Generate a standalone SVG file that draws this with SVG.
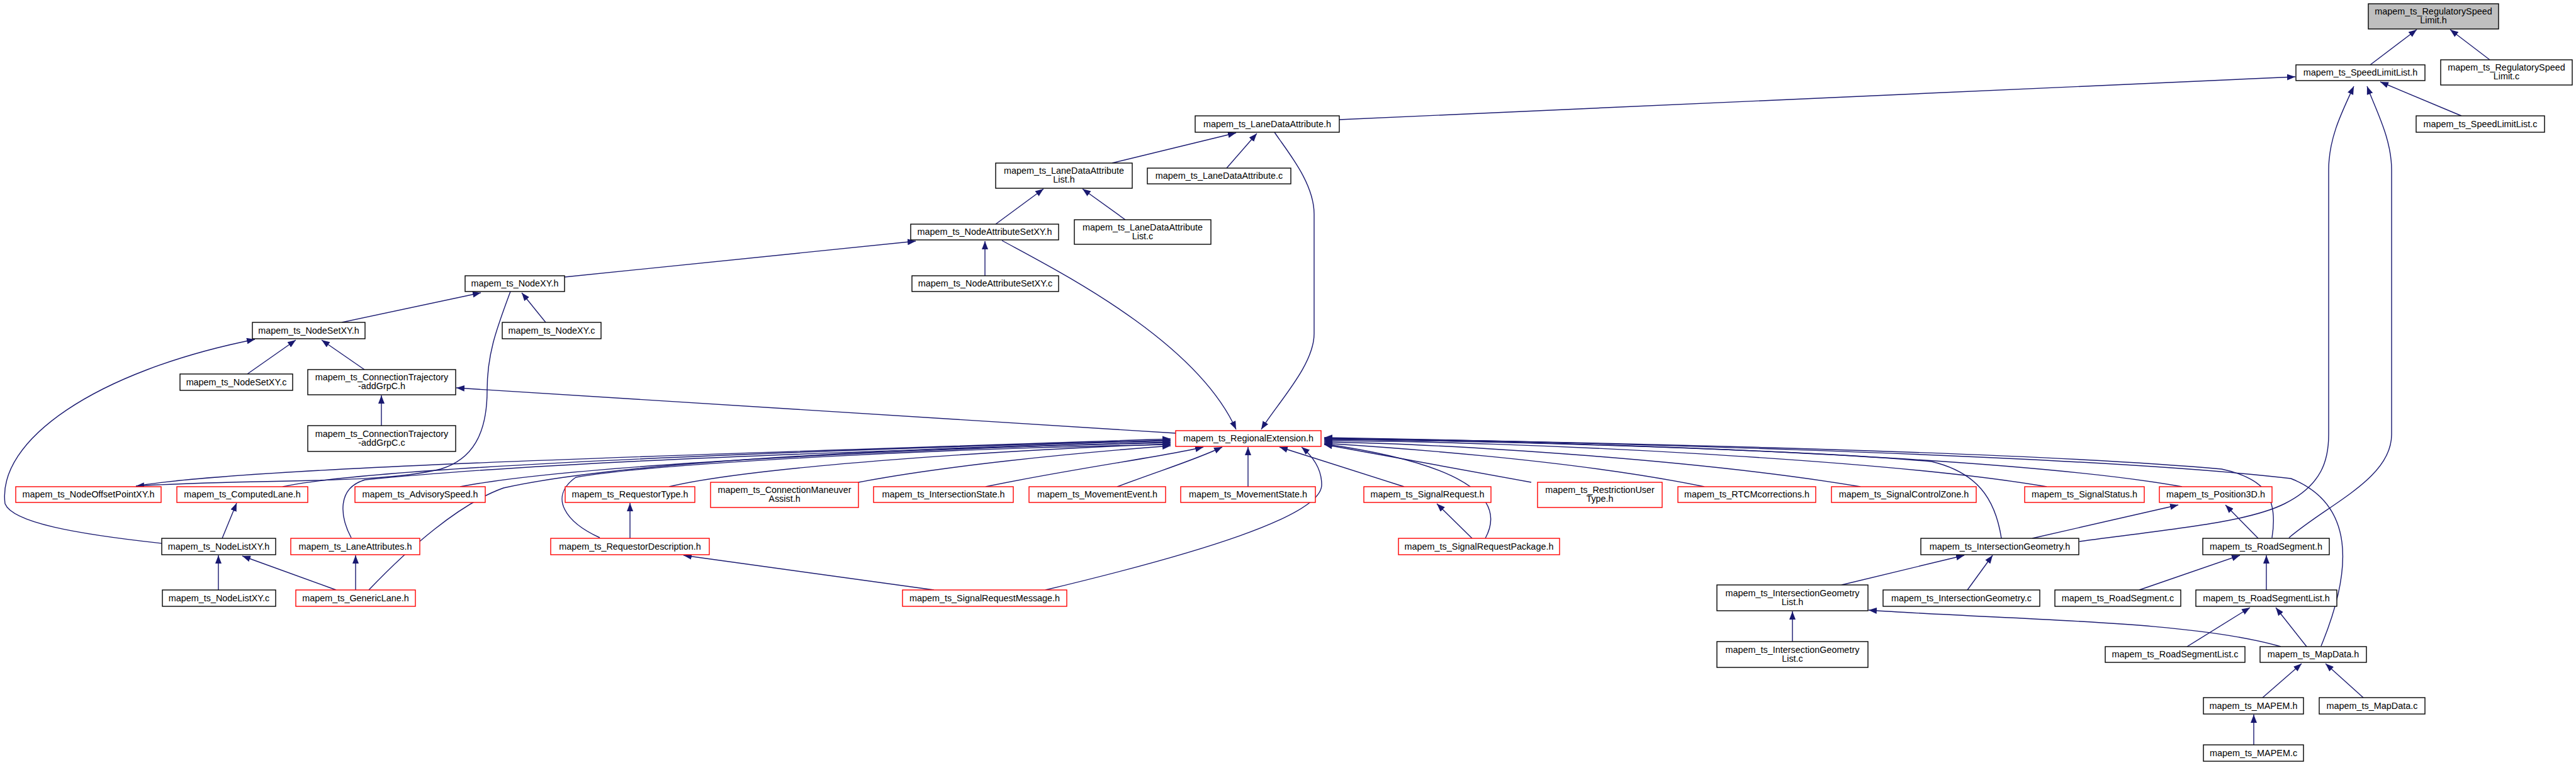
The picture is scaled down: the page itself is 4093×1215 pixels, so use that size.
<svg xmlns="http://www.w3.org/2000/svg" width="4093" height="1215" viewBox="0 0 4093 1215">
<defs>
<marker id="a" markerUnits="userSpaceOnUse" markerWidth="13" markerHeight="10" refX="13" refY="5" orient="auto"><path d="M0,0 L13,5 L0,10 z" fill="#191970"/></marker>
<style>
.n rect{fill:#fff;stroke:#000;stroke-width:1.4}
.r rect{fill:#fff;stroke:#ff0000;stroke-width:1.4}
.g rect{fill:#bfbfbf;stroke:#000;stroke-width:1.4}
text{font-family:"Liberation Sans",Arial,sans-serif;font-size:14.4px;text-anchor:middle;fill:#000}
#edges path{fill:none;stroke:#191970;stroke-width:1.4;marker-end:url(#a)}
</style>
</defs>
<rect width="4093" height="1215" fill="#fff"/>
<g id="edges">
<path d="M3766,103 L3840,47"/>
<path d="M3956,95 L3893,47"/>
<path d="M2128,190 L3647,122"/>
<path d="M3911,184 L3782,130"/>
<path d="M3304,860 C3450,840 3570,830 3630,800 C3690,770 3700,730 3700,690 L3700,270 C3700,220 3720,180 3740,137"/>
<path d="M3637,854 C3700,800 3800,760 3800,690 L3800,270 C3800,220 3775,175 3761,137"/>
<path d="M1767,259 L1964,211"/>
<path d="M1949,267 L1997,212"/>
<path d="M2025,210 C2045,240 2088,290 2088,340 L2088,530 C2088,580 2030,640 2004,682"/>
<path d="M1582,356 L1658,300"/>
<path d="M1788,349 L1720,300"/>
<path d="M897,440 L1455,383"/>
<path d="M1565,438 L1565,383"/>
<path d="M1592,382 C1680,430 1900,540 1964,682"/>
<path d="M543,512 L764,465"/>
<path d="M867,512 L829,465"/>
<path d="M811,463 C790,520 774,560 774,620 C774,690 750,730 700,745 C600,770 400,760 216,772"/>
<path d="M393,594 L470,540"/>
<path d="M579,587 L511,540"/>
<path d="M257,863 C120,848 20,830 8,800 C-5,700 150,590 405,539"/>
<path d="M606,676 L606,628"/>
<path d="M1868,688 L725,616"/>
<path d="M216,772 C400,740 1200,720 1860,697"/>
<path d="M449,773 C600,740 1300,715 1860,699"/>
<path d="M731,773 C900,740 1400,715 1860,702"/>
<path d="M1063,773 C1200,740 1600,715 1860,705"/>
<path d="M1364,766 C1500,740 1700,720 1860,708"/>
<path d="M1566,773 C1700,745 1850,725 1912,710"/>
<path d="M1775,773 C1850,745 1900,730 1942,710"/>
<path d="M1983,773 L1983,710"/>
<path d="M558,854 C540,820 535,775 580,762 C900,730 1500,712 1860,703"/>
<path d="M586,937 C650,870 730,800 800,775 C1000,730 1500,710 1860,700"/>
<path d="M953,854 C900,830 870,790 915,758 C1050,735 1500,712 1860,706"/>
<path d="M1661,937 C1900,880 2100,820 2100,770 C2100,740 2080,720 2068,710"/>
<path d="M2231,773 L2033,710"/>
<path d="M2360,855 C2390,800 2350,740 2104,705"/>
<path d="M2433,766 L2104,706"/>
<path d="M2708,773 C2500,730 2200,710 2104,704"/>
<path d="M2956,773 C2700,730 2300,705 2104,702"/>
<path d="M3252,773 C3000,730 2400,700 2104,700"/>
<path d="M3467,773 C3200,725 2500,700 2104,698"/>
<path d="M3180,855 C3170,790 3140,750 3069,733 C2800,710 2300,700 2104,697"/>
<path d="M3610,854 C3620,790 3600,760 3530,745 C3200,715 2400,700 2104,696"/>
<path d="M3688,1026 C3740,900 3740,800 3640,760 C3300,720 2400,700 2104,695"/>
<path d="M2848,1019 L2848,971"/>
<path d="M2926,929 L3121,882"/>
<path d="M3126,937 L3166,882"/>
<path d="M3624,1027 C3480,985 3200,985 2969,969"/>
<path d="M3399,937 L3559,882"/>
<path d="M3601,937 L3601,882"/>
<path d="M3475,1027 L3575,965"/>
<path d="M3665,1027 L3616,965"/>
<path d="M3595,1108 L3657,1054"/>
<path d="M3755,1108 L3695,1054"/>
<path d="M3581,1183 L3581,1135"/>
<path d="M3229,855 L3461,802"/>
<path d="M3588,855 L3536,802"/>
<path d="M347,937 L347,882"/>
<path d="M534,937 L385,883"/>
<path d="M565,937 L565,882"/>
<path d="M353,855 L376,799"/>
<path d="M1001,855 L1001,799"/>
<path d="M1484,937 L1086,882"/>
<path d="M2339,855 L2283,800"/>
</g>
<g id="n1" class="g"><rect x="3763" y="6" width="207" height="40"/><text x="3866.5" y="23">mapem_ts_RegulatorySpeed</text><text x="3866.5" y="37.4">Limit.h</text></g>
<g id="n2" class="n"><rect x="3648" y="103" width="205" height="25"/><text x="3750.5" y="120">mapem_ts_SpeedLimitList.h</text></g>
<g id="n3" class="n"><rect x="3878" y="95" width="209" height="40"/><text x="3982.5" y="112">mapem_ts_RegulatorySpeed</text><text x="3982.5" y="126.4">Limit.c</text></g>
<g id="n4" class="n"><rect x="3839" y="184" width="204" height="26"/><text x="3941" y="201.5">mapem_ts_SpeedLimitList.c</text></g>
<g id="n5" class="n"><rect x="1899" y="184" width="229" height="26"/><text x="2013.5" y="201.5">mapem_ts_LaneDataAttribute.h</text></g>
<g id="n6" class="n"><rect x="1582" y="259" width="217" height="40"/><text x="1690.5" y="276">mapem_ts_LaneDataAttribute</text><text x="1690.5" y="290.4">List.h</text></g>
<g id="n7" class="n"><rect x="1823" y="267" width="228" height="25"/><text x="1937" y="284">mapem_ts_LaneDataAttribute.c</text></g>
<g id="n8" class="n"><rect x="1447" y="356" width="235" height="25"/><text x="1564.5" y="373">mapem_ts_NodeAttributeSetXY.h</text></g>
<g id="n9" class="n"><rect x="1707" y="349" width="217" height="39"/><text x="1815.5" y="365.5">mapem_ts_LaneDataAttribute</text><text x="1815.5" y="379.9">List.c</text></g>
<g id="n10" class="n"><rect x="739" y="438" width="158" height="25"/><text x="818" y="455">mapem_ts_NodeXY.h</text></g>
<g id="n11" class="n"><rect x="1449" y="438" width="233" height="25"/><text x="1565.5" y="455">mapem_ts_NodeAttributeSetXY.c</text></g>
<g id="n12" class="n"><rect x="401" y="512" width="179" height="26"/><text x="490.5" y="529.5">mapem_ts_NodeSetXY.h</text></g>
<g id="n13" class="n"><rect x="798" y="512" width="157" height="26"/><text x="876.5" y="529.5">mapem_ts_NodeXY.c</text></g>
<g id="n14" class="n"><rect x="286" y="594" width="179" height="26"/><text x="375.5" y="611.5">mapem_ts_NodeSetXY.c</text></g>
<g id="n15" class="n"><rect x="489" y="587" width="235" height="40"/><text x="606.5" y="604">mapem_ts_ConnectionTrajectory</text><text x="606.5" y="618.4">-addGrpC.h</text></g>
<g id="n16" class="n"><rect x="489" y="676" width="235" height="41"/><text x="606.5" y="693.5">mapem_ts_ConnectionTrajectory</text><text x="606.5" y="707.9">-addGrpC.c</text></g>
<g id="n17" class="r"><rect x="1868" y="684" width="231" height="25"/><text x="1983.5" y="701">mapem_ts_RegionalExtension.h</text></g>
<g id="n18" class="r"><rect x="25" y="773" width="231" height="25"/><text x="140.5" y="790">mapem_ts_NodeOffsetPointXY.h</text></g>
<g id="n19" class="r"><rect x="281" y="773" width="208" height="25"/><text x="385" y="790">mapem_ts_ComputedLane.h</text></g>
<g id="n20" class="r"><rect x="564" y="773" width="207" height="25"/><text x="667.5" y="790">mapem_ts_AdvisorySpeed.h</text></g>
<g id="n21" class="r"><rect x="898" y="773" width="206" height="25"/><text x="1001" y="790">mapem_ts_RequestorType.h</text></g>
<g id="n22" class="r"><rect x="1129" y="766" width="235" height="40"/><text x="1246.5" y="782.5">mapem_ts_ConnectionManeuver</text><text x="1246.5" y="796.9">Assist.h</text></g>
<g id="n23" class="r"><rect x="1388" y="773" width="222" height="25"/><text x="1499" y="790">mapem_ts_IntersectionState.h</text></g>
<g id="n24" class="r"><rect x="1635" y="773" width="217" height="25"/><text x="1743.5" y="790">mapem_ts_MovementEvent.h</text></g>
<g id="n25" class="r"><rect x="1876" y="773" width="214" height="25"/><text x="1983" y="790">mapem_ts_MovementState.h</text></g>
<g id="n26" class="r"><rect x="2167" y="773" width="202" height="25"/><text x="2268" y="790">mapem_ts_SignalRequest.h</text></g>
<g id="n27" class="r"><rect x="2443" y="766" width="198" height="40"/><text x="2542" y="782.5">mapem_ts_RestrictionUser</text><text x="2542" y="796.9">Type.h</text></g>
<g id="n28" class="r"><rect x="2666" y="773" width="219" height="25"/><text x="2775.5" y="790">mapem_ts_RTCMcorrections.h</text></g>
<g id="n29" class="r"><rect x="2910" y="773" width="230" height="25"/><text x="3025" y="790">mapem_ts_SignalControlZone.h</text></g>
<g id="n30" class="r"><rect x="3217" y="773" width="190" height="25"/><text x="3312" y="790">mapem_ts_SignalStatus.h</text></g>
<g id="n31" class="r"><rect x="3431" y="773" width="179" height="25"/><text x="3520.5" y="790">mapem_ts_Position3D.h</text></g>
<g id="n32" class="n"><rect x="257" y="855" width="181" height="26"/><text x="347.5" y="872.5">mapem_ts_NodeListXY.h</text></g>
<g id="n33" class="r"><rect x="462" y="855" width="205" height="26"/><text x="564.5" y="872.5">mapem_ts_LaneAttributes.h</text></g>
<g id="n34" class="r"><rect x="875" y="855" width="252" height="26"/><text x="1001" y="872.5">mapem_ts_RequestorDescription.h</text></g>
<g id="n35" class="r"><rect x="2222" y="855" width="256" height="26"/><text x="2350" y="872.5">mapem_ts_SignalRequestPackage.h</text></g>
<g id="n36" class="n"><rect x="3052" y="855" width="251" height="26"/><text x="3177.5" y="872.5">mapem_ts_IntersectionGeometry.h</text></g>
<g id="n37" class="n"><rect x="3500" y="855" width="201" height="26"/><text x="3600.5" y="872.5">mapem_ts_RoadSegment.h</text></g>
<g id="n38" class="n"><rect x="258" y="937" width="180" height="26"/><text x="348" y="954.5">mapem_ts_NodeListXY.c</text></g>
<g id="n39" class="r"><rect x="470" y="937" width="190" height="26"/><text x="565" y="954.5">mapem_ts_GenericLane.h</text></g>
<g id="n40" class="r"><rect x="1434" y="937" width="261" height="26"/><text x="1564.5" y="954.5">mapem_ts_SignalRequestMessage.h</text></g>
<g id="n41" class="n"><rect x="2728" y="929" width="240" height="41"/><text x="2848" y="946.5">mapem_ts_IntersectionGeometry</text><text x="2848" y="960.9">List.h</text></g>
<g id="n42" class="n"><rect x="2992" y="937" width="249" height="26"/><text x="3116.5" y="954.5">mapem_ts_IntersectionGeometry.c</text></g>
<g id="n43" class="n"><rect x="3265" y="937" width="200" height="26"/><text x="3365" y="954.5">mapem_ts_RoadSegment.c</text></g>
<g id="n44" class="n"><rect x="3489" y="937" width="224" height="26"/><text x="3601" y="954.5">mapem_ts_RoadSegmentList.h</text></g>
<g id="n45" class="n"><rect x="2728" y="1019" width="240" height="41"/><text x="2848" y="1036.5">mapem_ts_IntersectionGeometry</text><text x="2848" y="1050.9">List.c</text></g>
<g id="n46" class="n"><rect x="3345" y="1027" width="222" height="25"/><text x="3456" y="1044">mapem_ts_RoadSegmentList.c</text></g>
<g id="n47" class="n"><rect x="3591" y="1027" width="169" height="25"/><text x="3675.5" y="1044">mapem_ts_MapData.h</text></g>
<g id="n48" class="n"><rect x="3501" y="1108" width="159" height="26"/><text x="3580.5" y="1125.5">mapem_ts_MAPEM.h</text></g>
<g id="n49" class="n"><rect x="3685" y="1108" width="168" height="26"/><text x="3769" y="1125.5">mapem_ts_MapData.c</text></g>
<g id="n50" class="n"><rect x="3501" y="1183" width="159" height="26"/><text x="3580.5" y="1200.5">mapem_ts_MAPEM.c</text></g>
</svg>
